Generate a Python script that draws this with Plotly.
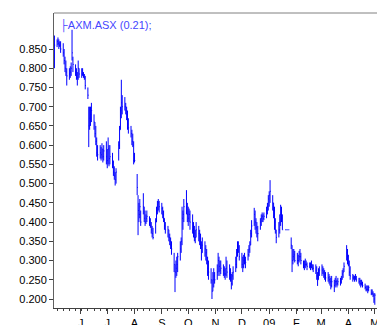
import pandas as pd
import plotly.graph_objects as go

# AXM.ASX daily bars, 2 May 2008 - 1 May 2009 (one row per trading week)
DATES = pd.bdate_range("2008-05-02", "2009-05-01")

HIGH = [
    0.885,
    0.875, 0.88, 0.875, 0.87, 0.87,
    0.865, 0.85, 0.83, 0.82, 0.80,
    0.80, 0.805, 0.815, 0.90, 0.83,
    0.81, 0.80, 0.79, 0.82, 0.80,
    0.80, 0.80, 0.79, 0.785, 0.78,
    0.75, 0.70, 0.70, 0.70, 0.71,
    0.68, 0.66, 0.65, 0.62, 0.60,
    0.60, 0.595, 0.605, 0.59, 0.60,
    0.61, 0.59, 0.62, 0.60, 0.60,
    0.58, 0.56, 0.545, 0.53, 0.54,
    0.61, 0.65, 0.70, 0.77, 0.73,
    0.725, 0.71, 0.70, 0.69, 0.67,
    0.65, 0.64, 0.63, 0.61, 0.58,
    0.525, 0.47, 0.45, 0.46, 0.43,
    0.475, 0.44, 0.43, 0.42, 0.43,
    0.415, 0.41, 0.40, 0.39, 0.385,
    0.41, 0.44, 0.455, 0.46, 0.455,
    0.45, 0.44, 0.43, 0.41, 0.40,
    0.39, 0.38, 0.37, 0.36, 0.35,
    0.32, 0.29, 0.30, 0.31, 0.32,
    0.35, 0.36, 0.44, 0.43, 0.46,
    0.483, 0.45, 0.44, 0.435, 0.43,
    0.42, 0.40, 0.39, 0.38, 0.40,
    0.39, 0.38, 0.37, 0.35, 0.36,
    0.35, 0.34, 0.33, 0.31, 0.30,
    0.28, 0.25, 0.27, 0.28, 0.27,
    0.29, 0.32, 0.31, 0.30, 0.30,
    0.29, 0.285, 0.28, 0.31, 0.30,
    0.29, 0.28, 0.265, 0.27, 0.285,
    0.31, 0.33, 0.35, 0.35, 0.34,
    0.32, 0.31, 0.315, 0.32, 0.31,
    0.33, 0.34, 0.35, 0.38, 0.405,
    0.437, 0.43, 0.41, 0.40, 0.39,
    0.41, 0.42, 0.425, 0.42, 0.425,
    0.44, 0.45, 0.47, 0.48, 0.509,
    0.47, 0.45, 0.44, 0.41, 0.38,
    0.40, 0.42, 0.445, 0.44, 0.42,
    0.38, 0.38, 0.38, 0.38, 0.38,
    0.36, 0.34, 0.33, 0.33, 0.325,
    0.32, 0.315, 0.325, 0.33, 0.32,
    0.30, 0.30, 0.305, 0.30, 0.295,
    0.295, 0.295, 0.30, 0.29, 0.29,
    0.29, 0.285, 0.27, 0.28, 0.285,
    0.29, 0.285, 0.28, 0.275, 0.27,
    0.27, 0.265, 0.26, 0.255, 0.26,
    0.25, 0.255, 0.26, 0.25, 0.255,
    0.255, 0.26, 0.275, 0.28, 0.295,
    0.34, 0.33, 0.315, 0.30, 0.285,
    0.265, 0.262, 0.26, 0.265, 0.26,
    0.255, 0.255, 0.25, 0.25, 0.245,
    0.24, 0.235, 0.235, 0.235, 0.235,
    0.225, 0.225, 0.22, 0.215, 0.215,
]

LOW = [
    0.80,
    0.855, 0.86, 0.85, 0.855, 0.84,
    0.83, 0.81, 0.79, 0.78, 0.755,
    0.77, 0.775, 0.78, 0.82, 0.79,
    0.78, 0.77, 0.755, 0.77, 0.775,
    0.775, 0.78, 0.775, 0.77, 0.745,
    0.72, 0.595, 0.64, 0.65, 0.66,
    0.64, 0.62, 0.60, 0.57, 0.56,
    0.565, 0.56, 0.565, 0.555, 0.56,
    0.55, 0.54, 0.55, 0.545, 0.55,
    0.54, 0.52, 0.51, 0.495, 0.50,
    0.56, 0.59, 0.64, 0.67, 0.68,
    0.69, 0.68, 0.665, 0.64, 0.63,
    0.62, 0.60, 0.595, 0.55, 0.555,
    0.47, 0.366, 0.40, 0.41, 0.39,
    0.42, 0.40, 0.39, 0.395, 0.40,
    0.39, 0.385, 0.37, 0.36, 0.355,
    0.37, 0.40, 0.42, 0.43, 0.425,
    0.42, 0.41, 0.40, 0.38, 0.37,
    0.36, 0.35, 0.34, 0.33, 0.315,
    0.27, 0.218, 0.255, 0.26, 0.27,
    0.30, 0.32, 0.34, 0.38, 0.40,
    0.42, 0.40, 0.39, 0.40, 0.38,
    0.37, 0.36, 0.35, 0.345, 0.36,
    0.35, 0.34, 0.33, 0.30, 0.32,
    0.31, 0.30, 0.29, 0.26, 0.25,
    0.24, 0.20, 0.22, 0.23, 0.24,
    0.25, 0.26, 0.27, 0.26, 0.265,
    0.26, 0.255, 0.25, 0.26, 0.255,
    0.25, 0.245, 0.225, 0.235, 0.25,
    0.27, 0.28, 0.31, 0.32, 0.30,
    0.28, 0.27, 0.28, 0.29, 0.28,
    0.30, 0.31, 0.32, 0.34, 0.36,
    0.39, 0.38, 0.37, 0.36, 0.35,
    0.38, 0.39, 0.40, 0.40, 0.405,
    0.41, 0.42, 0.43, 0.44, 0.45,
    0.43, 0.41, 0.38, 0.37, 0.345,
    0.36, 0.37, 0.39, 0.40, 0.38,
    0.38, 0.38, 0.38, 0.38, 0.38,
    0.33, 0.27, 0.29, 0.30, 0.295,
    0.29, 0.285, 0.295, 0.30, 0.29,
    0.28, 0.275, 0.28, 0.285, 0.275,
    0.28, 0.275, 0.28, 0.275, 0.27,
    0.265, 0.25, 0.234, 0.25, 0.26,
    0.26, 0.265, 0.255, 0.25, 0.245,
    0.245, 0.24, 0.235, 0.225, 0.23,
    0.218, 0.23, 0.235, 0.23, 0.235,
    0.235, 0.24, 0.25, 0.255, 0.27,
    0.30, 0.29, 0.285, 0.26, 0.25,
    0.245, 0.25, 0.245, 0.25, 0.245,
    0.24, 0.235, 0.23, 0.235, 0.23,
    0.225, 0.22, 0.22, 0.215, 0.22,
    0.21, 0.21, 0.205, 0.19, 0.185,
]

CLOSE = [
    0.86,
    0.87, 0.865, 0.86, 0.86, 0.85,
    0.84, 0.82, 0.80, 0.79, 0.78,
    0.785, 0.79, 0.80, 0.84, 0.81,
    0.79, 0.78, 0.775, 0.80, 0.785,
    0.785, 0.785, 0.78, 0.775, 0.755,
    0.73, 0.65, 0.67, 0.68, 0.69,
    0.66, 0.63, 0.61, 0.58, 0.575,
    0.58, 0.575, 0.59, 0.57, 0.585,
    0.57, 0.56, 0.59, 0.565, 0.57,
    0.555, 0.53, 0.52, 0.51, 0.53,
    0.60, 0.64, 0.69, 0.71, 0.70,
    0.70, 0.69, 0.68, 0.655, 0.645,
    0.63, 0.61, 0.60, 0.56, 0.56,
    0.49, 0.43, 0.42, 0.44, 0.40,
    0.44, 0.41, 0.40, 0.41, 0.415,
    0.40, 0.39, 0.38, 0.37, 0.36,
    0.40, 0.43, 0.445, 0.45, 0.44,
    0.435, 0.42, 0.41, 0.39, 0.38,
    0.38, 0.36, 0.35, 0.34, 0.33,
    0.29, 0.27, 0.28, 0.29, 0.31,
    0.33, 0.35, 0.41, 0.42, 0.44,
    0.44, 0.42, 0.41, 0.42, 0.40,
    0.38, 0.37, 0.36, 0.36, 0.38,
    0.37, 0.35, 0.34, 0.32, 0.34,
    0.33, 0.32, 0.30, 0.28, 0.27,
    0.25, 0.22, 0.25, 0.26, 0.25,
    0.27, 0.30, 0.285, 0.275, 0.28,
    0.275, 0.265, 0.265, 0.28, 0.27,
    0.265, 0.255, 0.24, 0.26, 0.27,
    0.29, 0.32, 0.33, 0.335, 0.31,
    0.29, 0.285, 0.30, 0.30, 0.295,
    0.315, 0.33, 0.34, 0.37, 0.39,
    0.42, 0.40, 0.385, 0.37, 0.37,
    0.40, 0.41, 0.415, 0.41, 0.415,
    0.43, 0.44, 0.46, 0.47, 0.48,
    0.45, 0.43, 0.40, 0.38, 0.36,
    0.38, 0.40, 0.42, 0.41, 0.38,
    0.38, 0.38, 0.38, 0.38, 0.38,
    0.34, 0.30, 0.31, 0.315, 0.30,
    0.30, 0.30, 0.31, 0.31, 0.30,
    0.29, 0.285, 0.29, 0.29, 0.285,
    0.285, 0.285, 0.29, 0.28, 0.28,
    0.275, 0.26, 0.25, 0.27, 0.275,
    0.275, 0.27, 0.265, 0.26, 0.255,
    0.255, 0.25, 0.245, 0.235, 0.245,
    0.235, 0.245, 0.245, 0.24, 0.245,
    0.245, 0.25, 0.265, 0.27, 0.285,
    0.32, 0.31, 0.29, 0.27, 0.26,
    0.255, 0.255, 0.25, 0.255, 0.25,
    0.245, 0.24, 0.24, 0.24, 0.235,
    0.23, 0.225, 0.225, 0.225, 0.23,
    0.215, 0.215, 0.21, 0.20, 0.21,
]

TICKER = "AXM.ASX"

MONTH_STARTS = ["2008-06-01", "2008-07-01", "2008-08-01", "2008-09-01",
                "2008-10-01", "2008-11-01", "2008-12-01", "2009-01-01",
                "2009-02-01", "2009-03-01", "2009-04-01", "2009-05-01"]
MONTH_LABELS = ["J", "J", "A", "S", "O", "N", "D", "09", "F", "M", "A", "M"]

Y_TICKS = [0.20, 0.25, 0.30, 0.35, 0.40, 0.45, 0.50, 0.55, 0.60, 0.65,
           0.70, 0.75, 0.80, 0.85]

for name, arr in (("HIGH", HIGH), ("LOW", LOW), ("CLOSE", CLOSE)):
    if len(arr) != len(DATES):
        raise ValueError(f"{name} has {len(arr)} values, expected {len(DATES)}")

# HLC bars: a vertical high-low stroke plus a short right-hand close tick
tick_offset = pd.Timedelta(hours=20)
xs, ys = [], []
for d, hi, lo, cl in zip(DATES, HIGH, LOW, CLOSE):
    xs += [d, d, None, d, d + tick_offset, None]
    ys += [lo, hi, None, cl, cl, None]

FONT = "Liberation Sans, Arial, sans-serif"

fig = go.Figure()
fig.add_trace(go.Scatter(
    x=xs, y=ys, mode="lines",
    line=dict(color="#0000ff", width=1),
    connectgaps=False, hoverinfo="skip", showlegend=False,
))

fig.update_layout(
    width=377, height=325,
    margin=dict(l=54, r=0, t=13, b=17),
    paper_bgcolor="white", plot_bgcolor="white",
    font=dict(family=FONT, size=11, color="#000000"),
    showlegend=False,
    xaxis=dict(
        type="date",
        range=["2008-05-01 12:00", "2009-05-03 12:00"],
        tickmode="array", tickvals=MONTH_STARTS, ticktext=MONTH_LABELS,
        ticks="outside", ticklen=5, tickwidth=1, tickcolor="#404040",
        minor=dict(ticks="outside", ticklen=2, tickwidth=1, tickcolor="#404040",
                   dtick=7 * 86400000, tick0="2008-05-05", showgrid=False),
        showline=True, linecolor="#404040", linewidth=1,
        showgrid=False, zeroline=False, automargin=False,
        ticklabeloverflow="allow",
        tickfont=dict(family=FONT, size=11, color="#000000"),
    ),
    yaxis=dict(
        range=[0.1766, 0.9436],
        tickmode="array", tickvals=Y_TICKS, tickformat=".3f",
        ticks="outside", ticklen=4, tickwidth=1, tickcolor="#404040",
        showline=True, linecolor="#606060", linewidth=1,
        showgrid=False, zeroline=False, automargin=False,
        tickfont=dict(family=FONT, size=11, color="#000000"),
    ),
    shapes=[dict(type="line", xref="paper", yref="paper",
                 x0=0, x1=1, y0=1, y1=1,
                 line=dict(color="#808080", width=1))],
    annotations=[dict(
        xref="paper", yref="paper", x=0.012, y=0.99,
        xanchor="left", yanchor="top", showarrow=False,
        text=f"\u251c{TICKER} ({CLOSE[-1]:.2f});",
        font=dict(family=FONT, size=11, color="#4646ff"),
    )],
)

fig.write_html("out.html")
